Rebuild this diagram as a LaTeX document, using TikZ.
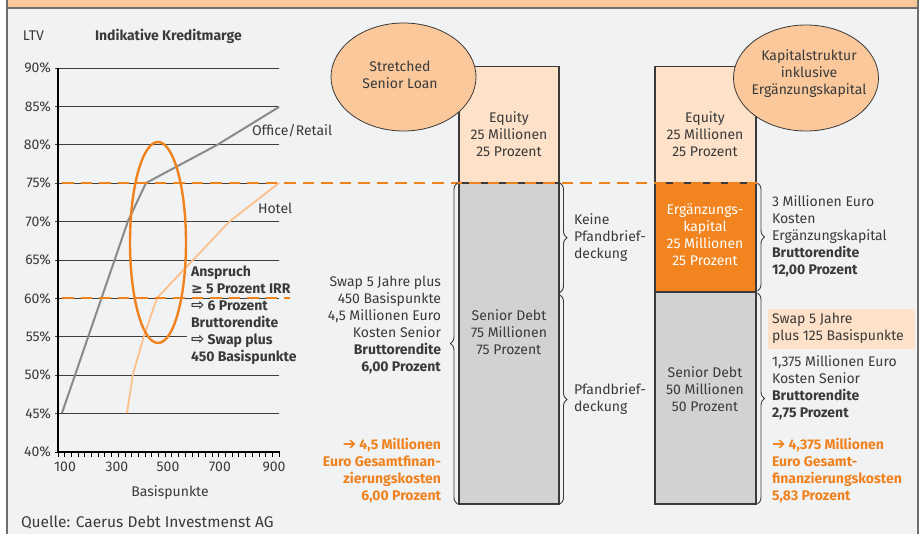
\documentclass[tikz,border=0pt]{standalone}
\usepackage{fontspec}
\setmainfont{Fira Sans}
\newfontfamily\symfont{DejaVu Sans}
\usetikzlibrary{decorations.pathreplacing,shapes.geometric}
\definecolor{bgc}{HTML}{F1F2F4}
\definecolor{hdr}{HTML}{FBC89A}
\definecolor{frm}{HTML}{6E6E6E}
\definecolor{txt}{HTML}{3A3A3A}
\definecolor{org}{HTML}{F0821E}
\definecolor{eqc}{HTML}{FEE1C9}
\definecolor{sdc}{HTML}{D1D2D4}
\definecolor{ekc}{HTML}{F2841F}
\definecolor{elc}{HTML}{FAC89B}
\definecolor{ofc}{HTML}{8A8A8A}
\definecolor{htc}{HTML}{FBC08C}
\definecolor{grd}{HTML}{3F3F3F}
\newcommand{\bigsym}[1]{{\symfont\fontsize{16}{17}\selectfont #1}}
\tikzset{
  lbl/.style={inner sep=0pt, outer sep=0pt, text=txt, font=\fontsize{14}{17}\selectfont},
  blbl/.style={lbl, font=\fontsize{14}{17}\selectfont\bfseries},
  olbl/.style={blbl, text=org},
  barbox/.style={draw=txt, line width=1.3, inner sep=0pt, outer sep=0pt, anchor=north west},
  bubble/.style={ellipse, draw=txt, line width=0.8, fill=elc, inner sep=0pt},
  brc/.style={draw=txt, line width=0.9, decorate, decoration={brace, amplitude=7pt}},
  dashline/.style={draw=org, line width=2.9, dash pattern=on 11.5pt off 7pt},
  gridline/.style={draw=grd, line width=0.9},
}
\begin{document}
\begin{tikzpicture}[x=1pt,y=-1pt]
\useasboundingbox (0,0) rectangle (921,534);
\fill[white] (0,0) rectangle (921,534);
\fill[bgc] (7,0) rectangle (918,534);
\filldraw[fill=hdr, draw=frm, line width=1.2] (7,-3) rectangle (918,8);
\draw[frm, line width=1.6] (7,0) -- (7,534) (918,0) -- (918,534);

% ---------- chart ----------
\foreach \p in {50,60,65,70,75,80,85,90}{
  \draw[gridline] (55,{452-(\p-40)*7.68}) -- (279,{452-(\p-40)*7.68});
}
\draw[gridline] (55,413.6) -- (279,413.6);
\draw[gridline] (55,336.8) -- (187,336.8);
\foreach \p in {40,45,...,90}{
  \node[lbl, anchor=east] (y\p) at (51,{452-(\p-40)*7.68}) {\p\%};
}
\draw[black, line width=0.9] (55,452) -- (58,452);
\foreach \k in {0,...,33}{
  \draw[black, line width=0.9] ({58+\k*6.7},452) -- ({58+\k*6.7},457);
}
\draw[black, line width=1.8] (58,68) -- (58,452) -- (280,452);

\draw[ofc, line width=2, line join=round] (62,413) -- (128,221) -- (146,183) -- (217,145) -- (279,107);
\draw[htc, line width=1.8, line join=round] (127,413) -- (133,374) -- (144,336) -- (157,298) -- (193,260) -- (230,221) -- (279,183);

\node[lbl, anchor=west] (ltv) at (23,36) {LTV};
\node[blbl, anchor=west] (ikm) at (95,36) {Indikative Kreditmarge};
\node[lbl, anchor=west] (offr) at (252,131) {Office/Retail};
\node[lbl, anchor=west] (hot) at (258,208) {Hotel};
\node[lbl] (x100) at (65,467) {100};
\node[lbl] (x300) at (117,467) {300};
\node[lbl] (x500) at (168,467) {500};
\node[lbl] (x700) at (220,467) {700};
\node[lbl] (x900) at (274,467) {900};
\node[lbl] (bp) at (170,493) {Basispunkte};
\node[lbl, anchor=west, font=\fontsize{15.5}{18}\selectfont] (src) at (21,522) {Quelle: Caerus Debt Investmenst AG};

\node[blbl, align=left, anchor=west] (ann) at (191,315)
  {Anspruch\\{\symfont\bfseries ≥} 5 Prozent IRR\\\bigsym{⇨} 6 Prozent\\Bruttorendite\\\bigsym{⇨} Swap plus\\450 Basispunkte};

% ---------- bars ----------
\node[barbox, fill=eqc, minimum width=100, minimum height=116.5] (eq1) at (459,66.5) {};
\node[barbox, fill=sdc, minimum width=100, minimum height=321] (sd1) at (459,183) {};
\node[barbox, fill=eqc, minimum width=101, minimum height=116.5] (eq2) at (655,66.5) {};
\node[barbox, fill=ekc, minimum width=101, minimum height=109] (ek2) at (655,183) {};
\node[barbox, fill=sdc, minimum width=101, minimum height=212] (sd2) at (655,292) {};

% dashed guide lines
\coordinate (d75a) at (62,183);
\coordinate (d75b) at (757,183);
\coordinate (d60a) at (62,298);
\coordinate (d60b) at (290,298);
\draw[dashline] (d75a) -- (d75b);
\draw[dashline] (d60a) -- (d60b);

\node[ellipse, draw=org, line width=2.4, minimum width=56, minimum height=201, inner sep=0pt] (oval) at (158,242.5) {};

% bubbles
\node[bubble, minimum width=145, minimum height=108] (el1) at (403.5,77) {};
\node[lbl, align=center] (el1t) at (400,75) {Stretched\\Senior Loan};
\node[bubble, minimum width=145, minimum height=106] (el2) at (806,78) {};
\node[lbl, align=center] (el2t) at (809,73.5) {Kapitalstruktur\\inklusive\\Ergänzungskapital};

% bar texts
\node[lbl, align=center] (t1) at (509,134.5) {Equity\\25 Millionen\\25 Prozent};
\node[lbl, align=center] (t2) at (509,332.5) {Senior Debt\\75 Millionen\\75 Prozent};
\node[lbl, align=center] (t3) at (705,134.5) {Equity\\25 Millionen\\25 Prozent};
\node[lbl, align=center, text=white] (t4) at (705,234.5) {Ergänzungs-\\kapital\\25 Millionen\\25 Prozent};
\node[lbl, align=center] (t5) at (705,389) {Senior Debt\\50 Millionen\\50 Prozent};

% braces
\coordinate (m1a) at (560,183);
\coordinate (m1b) at (560,292.5);
\coordinate (m2a) at (560,295);
\coordinate (m2b) at (560,504);
\draw[brc] ([xshift=-1.5pt]sd1.south west) -- ([xshift=-1.5pt]sd1.north west);
\draw[brc] (m1a) -- (m1b);
\draw[brc] (m2a) -- (m2b);
\draw[brc] ([xshift=1.5pt]ek2.north east) -- ([xshift=1.5pt,yshift=1pt]ek2.south east);
\draw[brc] ([xshift=1.5pt,yshift=-1pt]sd2.north east) -- ([xshift=1.5pt]sd2.south east);

% side texts
\node[lbl, align=right, anchor=east] (lt1) at (441,325)
  {Swap 5 Jahre plus\\450 Basispunkte\\4,5 Millionen Euro\\Kosten Senior\\\textbf{Bruttorendite}\\\textbf{6,00 Prozent}};
\node[olbl, align=right, anchor=east] (lt2) at (441,470.5)
  {\bigsym{➔} 4,5 Millionen\\Euro Gesamtfinan-\\zierungskosten\\6,00 Prozent};
\node[lbl, align=left, anchor=west] (k1) at (574,238) {Keine\\Pfandbrief-\\deckung};
\node[lbl, align=left, anchor=west] (k2) at (574,399.5) {Pfandbrief-\\deckung};

\node[lbl, align=left, anchor=west] (rt1) at (772,236)
  {3 Millionen Euro\\Kosten\\Ergänzungskapital\\\textbf{Bruttorendite}\\\textbf{12,00 Prozent}};
\node[fill=eqc, inner sep=0pt, minimum width=147, minimum height=40, anchor=north west] (hl) at (768,309) {};
\node[lbl, align=left, anchor=west] (rt2) at (772,328) {Swap 5 Jahre\\plus 125 Basispunkte};
\node[lbl, align=left, anchor=west] (rt3) at (772,388)
  {1,375 Millionen Euro\\Kosten Senior\\\textbf{Bruttorendite}\\\textbf{2,75 Prozent}};
\node[olbl, align=left, anchor=west] (rt4) at (772,470.5)
  {\bigsym{➔} 4,375 Millionen\\Euro Gesamt-\\finanzierungskosten\\5,83 Prozent};
\end{tikzpicture}
\end{document}
